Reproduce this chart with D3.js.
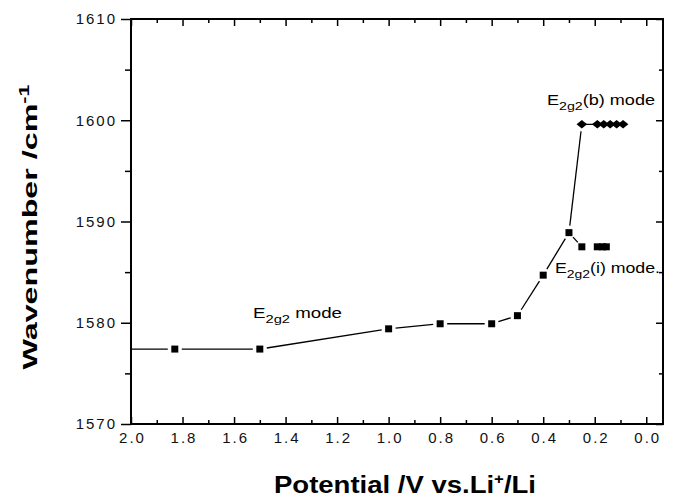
<!DOCTYPE html>
<html>
<head>
<meta charset="utf-8">
<script src="https://cdn.jsdelivr.net/npm/d3@7"></script>
<style>
  body { margin: 0; background: #fff; }
  text { font-family: "Liberation Sans", Arial, sans-serif; fill: #000; }
</style>
</head>
<body>
<svg id="chart"></svg>
<script>
// E2g2 mode (squares, main curve)
const potentialMain = [2.1, 1.83, 1.5, 1.0, 0.8, 0.6, 0.5, 0.4, 0.3];
const wavenumberMain = [1577.4, 1577.4, 1577.4, 1579.4, 1579.9, 1579.9, 1580.7, 1584.7, 1588.9];
// E2g2(b) mode (diamonds)
const potentialB = [0.25, 0.19, 0.165, 0.14, 0.115, 0.09];
const wavenumberB = [1599.6, 1599.6, 1599.6, 1599.6, 1599.6, 1599.6];
// E2g2(i) mode (squares)
const potentialI = [0.25, 0.19, 0.17, 0.155];
const wavenumberI = [1587.5, 1587.5, 1587.5, 1587.5];

const xTicks = [2.0, 1.8, 1.6, 1.4, 1.2, 1.0, 0.8, 0.6, 0.4, 0.2, 0.0];
const xMinorTicks = [1.9, 1.7, 1.5, 1.3, 1.1, 0.9, 0.7, 0.5, 0.3, 0.1];
const yTicks = [1570, 1580, 1590, 1600, 1610];
const yMinorTicks = [1575, 1585, 1595, 1605];

const width = 674, height = 499;
const margin = { top: 19, right: 11, bottom: 75, left: 131 };

const svg = d3.select("#chart").attr("width", width).attr("height", height);

const x = d3.scaleLinear().domain([2.0, -0.065]).range([margin.left, width - margin.right]);
const y = d3.scaleLinear().domain([1570, 1610]).range([height - margin.bottom, margin.top]);

const tickFont = (g) => g.selectAll("text")
  .style("font-size", "15px")
  .style("letter-spacing", "2px")
  .style("fill", "#111");

const styleAxis = (g) => {
  g.select(".domain").remove();
  g.selectAll("line").attr("stroke", "#000").attr("stroke-width", 1.5);
};

// bottom axis, ticks inward
svg.append("g")
  .attr("transform", `translate(0,${y(1570)})`)
  .call(d3.axisBottom(x).tickValues(xTicks).tickSize(-7).tickSizeOuter(0).tickPadding(8)
    .tickFormat(d3.format(".1f")))
  .call(styleAxis).call(tickFont)
  .selectAll("text").attr("dx", "1px");
svg.append("g")
  .attr("transform", `translate(0,${y(1570)})`)
  .call(d3.axisBottom(x).tickValues(xMinorTicks).tickSize(-4).tickFormat(""))
  .call(styleAxis);

// top axis, ticks inward
svg.append("g")
  .attr("transform", `translate(0,${y(1610)})`)
  .call(d3.axisTop(x).tickValues(xTicks).tickSize(-7).tickFormat(""))
  .call(styleAxis);
svg.append("g")
  .attr("transform", `translate(0,${y(1610)})`)
  .call(d3.axisTop(x).tickValues(xMinorTicks).tickSize(-4).tickFormat(""))
  .call(styleAxis);

// left axis, ticks outward
svg.append("g")
  .attr("transform", `translate(${x(2.0)},0)`)
  .call(d3.axisLeft(y).tickValues(yTicks).tickSize(10).tickPadding(4).tickFormat(d3.format("d")))
  .call(styleAxis).call(tickFont);
svg.append("g")
  .attr("transform", `translate(${x(2.0)},0)`)
  .call(d3.axisLeft(y).tickValues(yMinorTicks).tickSize(6).tickFormat(""))
  .call(styleAxis);

// right axis, ticks inward
svg.append("g")
  .attr("transform", `translate(${x.range()[1]},0)`)
  .call(d3.axisRight(y).tickValues(yTicks).tickSize(-7).tickFormat(""))
  .call(styleAxis);
svg.append("g")
  .attr("transform", `translate(${x.range()[1]},0)`)
  .call(d3.axisRight(y).tickValues(yMinorTicks).tickSize(-4).tickFormat(""))
  .call(styleAxis);

// frame
svg.append("rect")
  .attr("x", x.range()[0]).attr("y", y.range()[1])
  .attr("width", x.range()[1] - x.range()[0])
  .attr("height", y.range()[0] - y.range()[1])
  .attr("fill", "none").attr("stroke", "#000").attr("stroke-width", 2);

svg.append("clipPath").attr("id", "plot-clip")
  .append("rect")
  .attr("x", x.range()[0] + 1).attr("y", y.range()[1] + 1)
  .attr("width", x.range()[1] - x.range()[0] - 2)
  .attr("height", y.range()[0] - y.range()[1] - 2);

const plot = svg.append("g").attr("clip-path", "url(#plot-clip)");

const toPts = (xs, ys) => xs.map((v, i) => [x(v), y(ys[i])]);

// line segments that stop short of each marker, as in the original plot
const drawGapLine = (pts, gap) => {
  for (let i = 0; i < pts.length - 1; i++) {
    const [x1, y1] = pts[i], [x2, y2] = pts[i + 1];
    const len = Math.hypot(x2 - x1, y2 - y1);
    if (len <= gap * 2) continue;
    const ux = (x2 - x1) / len, uy = (y2 - y1) / len;
    plot.append("line")
      .attr("x1", x1 + ux * gap).attr("y1", y1 + uy * gap)
      .attr("x2", x2 - ux * gap).attr("y2", y2 - uy * gap)
      .attr("stroke", "#000").attr("stroke-width", 1.3);
  }
};

const mainPts = toPts(potentialMain, wavenumberMain);
const bPts = toPts(potentialB, wavenumberB);
const iPts = toPts(potentialI, wavenumberI);

drawGapLine([...mainPts, bPts[0]], 7);
drawGapLine([mainPts[mainPts.length - 1], iPts[0]], 6);
plot.append("path")
  .attr("d", d3.line()(bPts))
  .attr("fill", "none").attr("stroke", "#000").attr("stroke-width", 1.3);

const square = d3.symbol().type(d3.symbolSquare).size(49);
const diamond = d3.symbol().type(d3.symbolDiamond2).size(72);

plot.selectAll(".sq-main")
  .data(mainPts).enter().append("path")
  .attr("transform", (d) => `translate(${d[0]},${d[1]})`)
  .attr("d", square).attr("fill", "#000");

plot.selectAll(".sq-i")
  .data(iPts).enter().append("path")
  .attr("transform", (d) => `translate(${d[0]},${d[1]})`)
  .attr("d", square).attr("fill", "#000");

plot.selectAll(".dia")
  .data(bPts).enter().append("path")
  .attr("transform", (d) => `translate(${d[0]},${d[1]}) scale(1,0.8)`)
  .attr("d", diamond).attr("fill", "#000");

// mode labels
const modeLabel = (px, py, tag, rest, w) => {
  const t = svg.append("text")
    .attr("x", px).attr("y", py)
    .style("font-size", "14px")
    .attr("textLength", w).attr("lengthAdjust", "spacingAndGlyphs");
  t.append("tspan").text("E");
  t.append("tspan").attr("dy", 5).style("font-size", "11px").text("2g2");
  t.append("tspan").attr("dy", -5).text(tag + rest);
};
modeLabel(253, 318, "", " mode", 89);
modeLabel(547, 105, "(b)", " mode", 108);
modeLabel(555, 273, "(i)", " mode.", 105);

// axis titles
const yTitle = svg.append("text")
  .attr("transform", "translate(37,227) rotate(-90)")
  .attr("text-anchor", "middle")
  .style("font-size", "21px").style("font-weight", "bold")
  .attr("textLength", 285).attr("lengthAdjust", "spacingAndGlyphs");
yTitle.append("tspan").text("Wavenumber /cm");
yTitle.append("tspan").attr("dy", -8).style("font-size", "14px").text("-1");

const xTitle = svg.append("text")
  .attr("x", 405).attr("y", 493)
  .attr("text-anchor", "middle")
  .style("font-size", "23px").style("font-weight", "bold")
  .attr("textLength", 262).attr("lengthAdjust", "spacingAndGlyphs");
xTitle.append("tspan").text("Potential /V vs.Li");
xTitle.append("tspan").attr("dy", -9).style("font-size", "14px").text("+");
xTitle.append("tspan").attr("dy", 9).text("/Li");
</script>
</body>
</html>
